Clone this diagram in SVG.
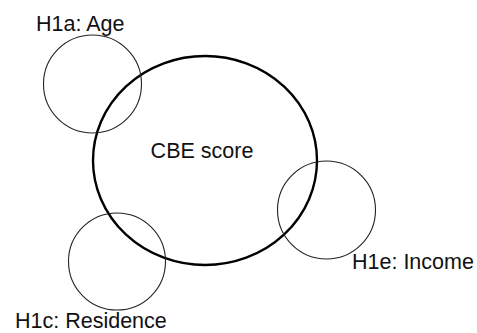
<svg xmlns="http://www.w3.org/2000/svg" width="477" height="333" viewBox="0 0 477 333">
  <style>
    .factor { fill: none; stroke: #222; stroke-width: 1.1; }
    .core { fill: none; stroke: #000; stroke-width: 2.4; }
    .label { font-family: "Liberation Sans", Arial, sans-serif; font-size: 21.5px; fill: #111; }
  </style>
  <rect width="477" height="333" fill="#fff"/>
  <g id="cbe">
    <ellipse class="core" cx="205" cy="160.5" rx="112" ry="104.5"/>
    <text class="label" x="202" y="158" text-anchor="middle">CBE score</text>
  </g>
  <g id="age">
    <circle class="factor" cx="92.5" cy="84" r="49"/>
    <text class="label" x="36" y="31">H1a: Age</text>
  </g>
  <g id="income">
    <circle class="factor" cx="326.5" cy="210" r="49"/>
    <text class="label" x="352" y="269">H1e: Income</text>
  </g>
  <g id="residence">
    <circle class="factor" cx="117" cy="261.5" r="48.5"/>
    <text class="label" x="15" y="328">H1c: Residence</text>
  </g>
  <g id="connectors"/>
</svg>
